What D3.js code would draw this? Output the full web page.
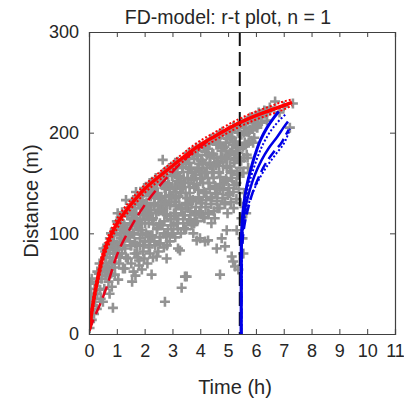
<!DOCTYPE html>
<html><head><meta charset="utf-8">
<script src="https://cdn.jsdelivr.net/npm/d3@7/dist/d3.min.js"></script>
<style>body{margin:0;background:#fff}svg{display:block}text{font-family:"Liberation Sans",Arial,sans-serif;fill:#262626}</style>
</head><body><svg id="c" width="404" height="401"></svg>
<script>
const title = "FD-model: r-t plot, n = 1";
const xLabel = "Time (h)";
const yLabel = "Distance (m)";
const xTicks = [0,1,2,3,4,5,6,7,8,9,10,11];
const yTicks = [0,100,200,300];
const tStop = 5.42;

// observed points [t (h), r (m)] — scattered part
const observed = [
[0.02,6],[0.04,12],[0.0,18],[0.06,22],[0.1,14],[0.12,28],[0.03,30],[0.15,35],[0.08,40],[0.18,20],[0.2,45],[0.05,50],[0.22,32],[0.1,55],
[0.28,25],[0.3,40],[0.32,52],[0.35,60],[0.4,44],[0.42,35],[0.45,55],[0.48,65],[0.38,70],[0.5,32],[0.3,62],
[0.55,45],[0.6,58],[0.62,70],[0.65,80],[0.7,52],[0.68,88],[0.72,64],[0.58,76],[0.75,95],[0.74,40],[0.52,85],
[0.8,60],[0.85,72],[0.88,85],[0.9,98],[0.95,105],[0.82,47],[0.86,26],[0.98,80],[0.93,66],[0.78,90],[1.0,112],
[1.05,54],[1.08,70],[1.1,90],[1.12,100],[1.15,110],[1.18,80],[1.2,118],[1.22,65],[1.25,95],[1.03,120],
[1.29,65],[1.3,85],[1.33,133],[1.35,105],[1.38,118],[1.4,75],[1.42,96],[1.45,125],[1.48,110],[1.5,88],
[1.55,52],[1.58,100],[1.6,115],[1.62,128],[1.65,90],[1.69,141],[1.7,120],[1.72,80],[1.74,108],[1.68,135],
[1.8,73],[1.83,95],[1.85,125],[1.88,140],[1.9,110],[1.92,132],[1.95,88],[1.98,145],[2.0,118],[1.78,105],
[2.05,100],[2.08,130],[2.1,143],[2.12,120],[2.15,110],[2.18,150],[2.2,92],[2.22,137],[2.25,59],[2.03,125],
[2.3,115],[2.33,145],[2.35,130],[2.4,155],[2.43,77],[2.45,105],[2.47,140],[2.5,122],[2.28,98],[2.38,150],
[2.55,110],[2.58,135],[2.6,150],[2.62,125],[2.65,173],[2.68,160],[2.7,100],[2.72,145],[2.73,32],[2.75,130],
[2.79,75],[2.79,97],[2.8,88],[2.8,118],[2.85,150],[2.88,165],[2.9,138],[2.92,128],[2.95,108],[3.0,158],
[3.05,120],[3.08,145],[3.1,170],[3.12,135],[3.15,110],[3.18,160],[3.2,85],[3.22,150],[3.25,128],[3.03,100],
[3.27,83],[3.3,140],[3.33,46],[3.35,165],[3.38,118],[3.4,155],[3.45,57],[3.47,130],[3.5,175],[3.42,105],
[3.51,57],[3.55,125],[3.58,150],[3.6,170],[3.62,140],[3.65,112],[3.7,160],[3.72,180],[3.75,100],[3.68,132],
[3.8,145],[3.82,120],[3.87,93],[3.9,165],[3.92,178],[3.95,135],[3.99,95],[4.0,155],[3.85,185],[3.78,110],
[4.05,130],[4.08,170],[4.1,150],[4.12,185],[4.15,115],[4.17,92],[4.2,160],[4.22,140],[4.25,178],[4.03,120],
[4.28,120],[4.28,93],[4.3,150],[4.33,190],[4.35,168],[4.38,135],[4.4,110],[4.45,178],[4.48,155],[4.5,195],
[4.55,140],[4.59,85],[4.6,170],[4.62,125],[4.65,188],[4.68,160],[4.71,59],[4.72,145],[4.75,198],[4.52,115],
[4.77,95],[4.8,175],[4.85,150],[4.88,130],[4.89,87],[4.92,190],[4.95,103],[4.95,165],[4.98,120],[5.0,200],
[5.05,140],[5.08,180],[5.1,160],[5.13,77],[5.15,195],[5.18,72],[5.2,125],[5.22,170],[5.25,67],[5.25,205],
[5.3,150],[5.31,103],[5.35,185],[5.37,64],[5.4,200],[5.42,165],[5.45,130],[5.48,115],[5.5,210],[5.28,175],
[5.55,160],[5.6,190],[5.62,205],[5.7,175],[5.75,200],[5.8,215],[5.9,190],[5.95,210],[6.05,205],[6.1,220],[6.2,215],[6.3,222],[6.4,212],[6.5,225],[6.69,231],[6.85,220],[7.0,226],[7.22,205],[5.58,140],[5.65,120],[5.52,95],[5.55,80],[7.33,229]
];

// observed points — dense band just below the fitted curve
const observedBand = [
[0.63,86],[0.58,82],[0.64,67],[0.57,64],[0.71,90],[0.68,88],[0.74,76],[0.67,62],[0.72,58],
[0.79,100],[0.83,87],[0.76,84],[0.82,70],[0.94,104],[0.87,92],[0.91,87],[0.88,80],[0.93,59],
[1.03,110],[0.98,104],[1.04,88],[0.97,84],[1.11,113],[1.08,109],[1.14,95],[1.07,80],[1.12,76],
[1.19,121],[1.23,106],[1.16,103],[1.22,88],[1.34,121],[1.27,108],[1.31,103],[1.28,95],[1.33,76],
[1.43,125],[1.38,118],[1.44,101],[1.37,97],[1.51,126],[1.48,122],[1.54,108],[1.47,92],[1.52,88],
[1.59,133],[1.63,118],[1.56,114],[1.62,99],[1.74,134],[1.67,120],[1.71,115],[1.68,107],[1.73,88],
[1.83,137],[1.78,129],[1.84,113],[1.77,108],[1.91,137],[1.88,133],[1.94,119],[1.87,103],[1.92,99],
[1.99,144],[2.03,128],[1.96,125],[2.02,110],[2.14,144],[2.07,130],[2.11,126],[2.08,117],[2.13,98],
[2.23,147],[2.18,139],[2.24,123],[2.17,119],[2.31,147],[2.28,143],[2.34,128],[2.27,113],[2.32,109],
[2.39,153],[2.43,138],[2.36,135],[2.42,120],[2.54,153],[2.47,139],[2.51,135],[2.48,127],[2.53,108],
[2.63,156],[2.58,149],[2.64,132],[2.57,128],[2.71,156],[2.68,151],[2.74,137],[2.67,123],[2.72,119],
[2.79,162],[2.83,147],[2.76,144],[2.82,129],[2.94,162],[2.87,148],[2.91,144],[2.88,136],[2.93,117],
[3.03,165],[2.98,157],[3.04,141],[2.97,137],[3.11,165],[3.08,160],[3.14,146],[3.07,131],[3.12,127],
[3.19,171],[3.23,155],[3.16,152],[3.22,137],[3.34,171],[3.27,157],[3.31,152],[3.28,144],[3.33,125],
[3.43,173],[3.38,166],[3.44,150],[3.37,146],[3.51,174],[3.48,169],[3.54,155],[3.47,140],[3.52,135],
[3.59,180],[3.63,164],[3.56,161],[3.62,146],[3.74,179],[3.67,165],[3.71,161],[3.68,153],[3.73,133],
[3.83,182],[3.78,174],[3.84,158],[3.77,154],[3.91,182],[3.88,177],[3.94,163],[3.87,148],[3.92,143],
[3.99,187],[4.03,172],[3.96,169],[4.02,154],[4.14,187],[4.07,173],[4.11,169],[4.08,161],[4.13,141],
[4.23,189],[4.18,181],[4.24,165],[4.17,161],[4.31,189],[4.28,184],[4.34,170],[4.27,155],[4.32,150],
[4.39,194],[4.43,179],[4.36,176],[4.42,161],[4.54,194],[4.47,179],[4.51,175],[4.48,167],[4.53,147],
[4.63,196],[4.58,188],[4.64,172],[4.57,168],[4.71,195],[4.68,190],[4.74,176],[4.67,161],[4.72,156],
[4.79,201],[4.83,185],[4.76,182],[4.82,167],[4.94,200],[4.87,186],[4.91,182],[4.88,174],[4.93,154],
[5.03,202],[4.98,194],[5.04,178],[4.97,174],[5.11,201],[5.08,196],[5.14,182],[5.07,167],[5.12,162],
[5.19,206],[5.23,191],[5.16,188],[5.22,173],[5.34,206],[5.27,191],[5.31,187],[5.28,179],[5.33,159],
[5.41,207],[5.38,200],[5.44,184],[5.37,180],
[5.51,208],[5.48,198],[5.54,186],[5.47,172],[5.52,160],[5.61,210],[5.58,200],[5.64,188],[5.57,175],
[5.71,212],[5.68,201],[5.74,190],[5.67,178],[5.72,165],[5.81,213],[5.78,203],[5.84,192],
[5.91,214],[5.88,205],[5.94,195],[6.01,216],[5.98,206],[6.11,217],[6.08,208],[6.21,219],[6.18,210],
[6.31,220],[6.41,221],[6.51,222]
];

// observed points — lower edge of the dense band
const observedLower = [
[1.52,70],[1.6,62],[1.64,80],[1.67,58],[1.75,76],[1.8,68],[1.84,88],[1.9,64],[1.95,82],[1.99,75],
[2.02,92],[2.1,70],[2.15,86],[2.19,80],[2.21,98],[2.3,76],[2.35,92],[2.38,88],[2.44,104],[2.49,82],
[2.54,96],[2.57,90],[2.64,108],[2.69,86],[2.71,112],[2.78,98],[2.84,104],[2.9,92],[2.94,114],[2.97,100],
[3.04,108],[3.1,96],[3.12,120],[3.19,104],[3.21,114],[3.3,100],[3.32,124],[3.39,110],[3.44,118],[3.49,104],
[3.52,128],[3.6,114],[3.64,122],[3.69,108],[3.71,132],[3.8,118],[3.84,126],[3.89,112],[3.94,136],[3.97,122],
[4.02,130],[4.1,116],[4.14,140],[4.19,126],[4.21,133],[4.3,119],[4.34,144],[4.39,129],[4.42,136],[4.49,122],
[4.54,146],[4.6,132],[4.62,139],[4.69,125],[4.73,149],[4.8,135],[4.82,143],[4.89,129],[4.94,152],[4.99,138],
[5.02,145],[5.1,131],[5.14,155],[5.19,141],[5.21,148],[5.3,134],[5.34,158],[5.39,144]
];

// red model (before stop)
const redT      = [0.02,0.05,0.1,0.15,0.2,0.3,0.4,0.5,0.6,0.75,0.9,1.05,1.25,1.5,1.75,2,2.5,3,3.5,4,4.5,5,5.5,6,6.5,7,7.3];
const redFit    = [5,12,22,31,39,53,66,77,86,96,104.5,111.5,119.5,128.5,136.5,144,156,167,178,188,196,204,211,217,222,227,230];
const redUpper  = [8,16,27,36,44,58,71,82,91,101,109.5,116.5,124.5,133,141,148,160,171,182,192,200,208,215,221,226,231,233];
const redLower  = [3,9,18,26,34,48,61,72,81,91,99.5,106.5,115,124,132,140,152,163,174,184,192,200,207,213,218,223,227];
const redAltT   = [0.02,0.1,0.2,0.36,0.6,1,1.5,2,2.5,3,3.5,4,4.5,5,5.5,6,6.5,7,7.3];
const redAlt    = [3,10,17,27,44,78,106,128,146,161,175,186,196,204,211,217,222,227,230];

// blue model (after stop): time and radius for each curve
const blueFitT   = [5.47,5.47,5.5,5.57,5.67,5.8,5.97,6.17,6.4,6.62,6.82];
const blueFitR   = [0,80,110,130,147,162,178,193,205,214,221];
const blueUpT    = [5.47,5.48,5.52,5.61,5.73,5.89,6.09,6.34,6.62,6.87,7.1];
const blueUpR    = [0,80,110,130,147,162,178,193,205,213,219];
const blueFit2T  = [5.47,5.48,5.53,5.64,5.79,5.96,6.19,6.47,6.77,6.99,7.15];
const blueFit2R  = [0,80,110,128,144,158,172,185,196,205,211];
const blueLowT   = [5.47,5.49,5.56,5.7,5.88,6.1,6.38,6.7,7.0,7.15,7.22];
const blueLowR   = [0,80,110,126,140,153,166,178,189,198,204];
const blueAltT   = [5.47,5.5,5.6,5.74,5.9,6.09,6.32,6.62,6.92,7.08,7.18];
const blueAltR   = [0,80,110,127,142,155,168,180,190,198,203];

const svg = d3.select("#c");
const x = d3.scaleLinear().domain([0,11]).range([89,395]);
const y = d3.scaleLinear().domain([0,300]).range([334,32]);

svg.append("defs").append("clipPath").attr("id","cp").append("rect")
  .attr("x",89).attr("y",32).attr("width",306).attr("height",302);
const plot = svg.append("g").attr("clip-path","url(#cp)");

// scatter
plot.append("g").selectAll("path").data(observed.concat(observedBand, observedLower)).join("path")
  .attr("d",d=>`M${x(d[0])-5},${y(d[1])}h10M${x(d[0])},${y(d[1])-5}v10`)
  .attr("stroke","#939393").attr("stroke-width",2.6).attr("fill","none");

// stop line
plot.append("line").attr("x1",x(tStop)).attr("x2",x(tStop)).attr("y1",y(300)).attr("y2",y(0))
  .attr("stroke","#111").attr("stroke-width",2).attr("stroke-dasharray","14,6");

const lineX = d3.line().x(d=>x(d[0])).y(d=>y(d[1])).curve(d3.curveMonotoneX);
const lineY = d3.line().x(d=>x(d[0])).y(d=>y(d[1])).curve(d3.curveMonotoneY);
const zip = (a,b)=>a.map((v,i)=>[v,b[i]]);

const red = "#ff0000", blue = "#0000e6";
plot.append("path").attr("d",lineX(zip(redAltT,redAlt))).attr("fill","none").attr("stroke","#e6001a").attr("stroke-width",2.5).attr("stroke-dasharray","12,6");
plot.append("path").attr("d",lineX(zip(redT,redUpper))).attr("fill","none").attr("stroke",red).attr("stroke-width",2).attr("stroke-dasharray","2,2");
plot.append("path").attr("d",lineX(zip(redT,redLower))).attr("fill","none").attr("stroke",red).attr("stroke-width",2).attr("stroke-dasharray","2,2");
plot.append("path").attr("d",lineX(zip(redT,redFit))).attr("fill","none").attr("stroke",red).attr("stroke-width",3.5);

plot.append("path").attr("d",lineY(zip(blueAltT,blueAltR))).attr("fill","none").attr("stroke",blue).attr("stroke-width",2.5).attr("stroke-dasharray","10,5");
plot.append("path").attr("d",lineY(zip(blueUpT,blueUpR))).attr("fill","none").attr("stroke",blue).attr("stroke-width",2).attr("stroke-dasharray","2,2");
plot.append("path").attr("d",lineY(zip(blueLowT,blueLowR))).attr("fill","none").attr("stroke",blue).attr("stroke-width",2).attr("stroke-dasharray","2,2");
plot.append("path").attr("d",lineY(zip(blueFit2T,blueFit2R))).attr("fill","none").attr("stroke",blue).attr("stroke-width",2.5);
plot.append("path").attr("d",lineY(zip(blueFitT,blueFitR))).attr("fill","none").attr("stroke",blue).attr("stroke-width",3);

// axes box
const ax = svg.append("g");
const axisColor = "#404040";
ax.append("g").attr("transform","translate(0,334)").call(d3.axisBottom(x).tickValues(xTicks).tickSize(-5).tickPadding(10).tickFormat(d3.format("d")));
ax.append("g").attr("transform","translate(0,32)").call(d3.axisTop(x).tickValues(xTicks).tickSize(-5).tickFormat(""));
ax.append("g").attr("transform","translate(89,0)").call(d3.axisLeft(y).tickValues(yTicks).tickSize(-5).tickPadding(10).tickFormat(d3.format("d")));
ax.append("g").attr("transform","translate(395,0)").call(d3.axisRight(y).tickValues(yTicks).tickSize(-5).tickFormat(""));
ax.selectAll(".domain").attr("stroke",axisColor).attr("stroke-width",1.2);
ax.selectAll(".tick line").attr("stroke",axisColor);
ax.selectAll(".tick text").attr("font-size",18).attr("fill","#262626").attr("font-family","Liberation Sans, Arial, sans-serif");

svg.append("text").attr("x",228).attr("y",24).attr("text-anchor","middle").attr("font-size",19.5).text(title);
svg.append("text").attr("x",235).attr("y",394).attr("text-anchor","middle").attr("font-size",20).text(xLabel);
svg.append("text").attr("transform","translate(38,201) rotate(-90)").attr("text-anchor","middle").attr("font-size",20).text(yLabel);
</script></body></html>
